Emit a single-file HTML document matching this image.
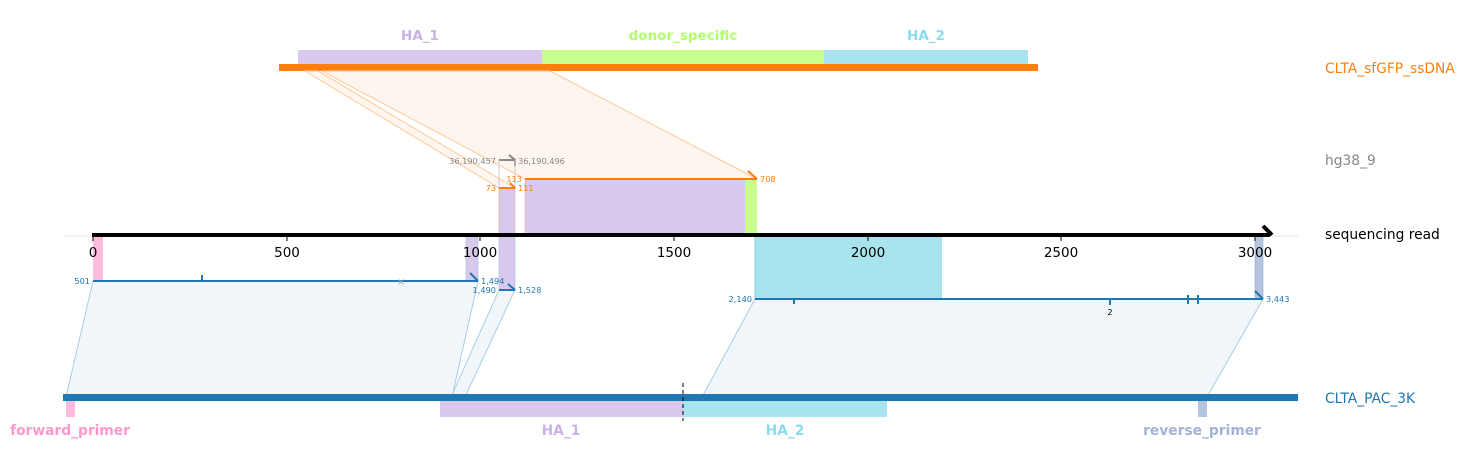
<!DOCTYPE html>
<html><head><meta charset="utf-8"><style>
html,body{margin:0;padding:0;background:#fff;}
svg{display:block;font-family:"DejaVu Sans","Liberation Sans",sans-serif;}
</style></head><body>
<svg width="1468" height="467" viewBox="0 0 1468 467" xmlns="http://www.w3.org/2000/svg">
<text x="420" y="40" font-size="13.5" font-weight="bold" fill="#c9b3e6" text-anchor="middle">HA_1</text>
<text x="683" y="40" font-size="13.5" font-weight="bold" fill="#b0ff6a" text-anchor="middle">donor_specific</text>
<text x="926" y="40" font-size="13.5" font-weight="bold" fill="#8bdcea" text-anchor="middle">HA_2</text>
<rect x="298" y="50" width="244" height="14" fill="#d8c8eb"/>
<rect x="542" y="50" width="282" height="14" fill="#c6ff8c"/>
<rect x="824" y="50" width="204" height="14" fill="#a8e4ee"/>
<rect x="279" y="64" width="759" height="7" fill="#ff7f0e"/>
<text x="1325" y="73" font-size="13.8" fill="#ff7f0e">CLTA_sfGFP_ssDNA</text>
<polygon points="305,71 318,71 515,188 499,188" fill="#fdf5ee" stroke="#ffc99a" stroke-width="1"/>
<polygon points="322,71 550,71 757,179 525,179" fill="#fdf5ee" stroke="#ffc99a" stroke-width="1"/>
<text x="1325" y="165" font-size="13.8" fill="#888">hg38_9</text>
<line x1="499" y1="160" x2="515" y2="160" stroke="#888" stroke-width="2"/>
<polyline points="509,155 515,160 515,166" fill="none" stroke="#888" stroke-width="2"/>
<line x1="499" y1="160" x2="499" y2="188" stroke="#ccc" stroke-width="1"/>
<line x1="515" y1="160" x2="515" y2="188" stroke="#ccc" stroke-width="1"/>
<text x="496" y="164" font-size="8.2" fill="#888" text-anchor="end">36,190,457</text>
<text x="518" y="164" font-size="8.2" fill="#888">36,190,496</text>
<rect x="499" y="188" width="16" height="47" fill="#d8c8eb" stroke="#e0a890" stroke-width="0.6"/>
<rect x="525" y="179" width="220" height="56" fill="#d8c8eb"/>
<rect x="745" y="179" width="12" height="56" fill="#c6ff8c"/>
<line x1="525" y1="179" x2="525" y2="235" stroke="#e0a890" stroke-width="0.6"/>
<line x1="499" y1="188" x2="515" y2="188" stroke="#ff7f0e" stroke-width="2"/>
<line x1="510" y1="183" x2="515" y2="188" stroke="#ff7f0e" stroke-width="2"/>
<line x1="525" y1="179" x2="757" y2="179" stroke="#ff7f0e" stroke-width="2"/>
<line x1="748" y1="171" x2="757" y2="179" stroke="#ff7f0e" stroke-width="2"/>
<text x="496" y="191" font-size="8.2" fill="#ff7f0e" text-anchor="end">73</text>
<text x="518" y="191" font-size="8.2" fill="#ff7f0e">111</text>
<text x="522" y="182" font-size="8.2" fill="#ff7f0e" text-anchor="end">113</text>
<text x="760" y="182" font-size="8.2" fill="#ff7f0e">708</text>
<rect x="93" y="235" width="10" height="46" fill="#ffbbdd"/>
<rect x="466" y="235" width="12" height="46" fill="#d8c8eb" stroke="#a8b8e8" stroke-width="0.6"/>
<rect x="499" y="235" width="16" height="55" fill="#d8c8eb" stroke="#a8b8e8" stroke-width="0.6"/>
<rect x="755" y="235" width="187" height="64" fill="#a8e4ee"/>
<line x1="755" y1="235" x2="755" y2="299" stroke="#8cc8e0" stroke-width="1"/>
<rect x="1255" y="235" width="8" height="64" fill="#b5c3dd" stroke="#90a8d8" stroke-width="0.6"/>
<line x1="63" y1="236" x2="1298" y2="236" stroke="#e6e6e6" stroke-width="1"/>
<line x1="92" y1="235" x2="1270" y2="235" stroke="#000" stroke-width="4"/>
<polyline points="1263,226 1272,235" fill="none" stroke="#000" stroke-width="4"/>
<text x="1325" y="239" font-size="13.8" fill="#000">sequencing read</text>
<g stroke="#000" stroke-width="1">
<line x1="93" y1="235" x2="93" y2="241"/><line x1="287" y1="235" x2="287" y2="241"/><line x1="480" y1="235" x2="480" y2="241"/>
<line x1="674" y1="235" x2="674" y2="241"/><line x1="868" y1="235" x2="868" y2="241"/><line x1="1061" y1="235" x2="1061" y2="241"/><line x1="1255" y1="235" x2="1255" y2="241"/>
</g>
<g font-size="13.5" fill="#000" text-anchor="middle">
<text x="93" y="257">0</text><text x="287" y="257">500</text><text x="480" y="257">1000</text><text x="674" y="257">1500</text><text x="868" y="257">2000</text><text x="1061" y="257">2500</text><text x="1255" y="257">3000</text>
</g>
<polygon points="93,281 478,281 452,397 66,397" fill="#f1f6fa" stroke="#a9cde6" stroke-width="1"/>
<polygon points="499,290 515,290 465,397 451,397" fill="#f1f6fa" stroke="#a9cde6" stroke-width="1"/>
<polygon points="755,299 1263,299 1207,397 702,397" fill="#f1f6fa" stroke="#a9cde6" stroke-width="1"/>
<g stroke="#1f77b4" stroke-width="2" fill="none">
<line x1="93" y1="281" x2="478" y2="281"/><line x1="470" y1="273" x2="478" y2="281"/>
<line x1="202" y1="275" x2="202" y2="281"/>
<line x1="499" y1="290" x2="515" y2="290"/><line x1="508" y1="284" x2="515" y2="290"/>
<line x1="755" y1="299" x2="1263" y2="299"/><line x1="1255" y1="291" x2="1263" y2="299"/>
<line x1="794" y1="299" x2="794" y2="304"/><line x1="1110" y1="299" x2="1110" y2="305"/>
<line x1="1188" y1="295" x2="1188" y2="304"/><line x1="1198" y1="295" x2="1198" y2="304"/>
</g>
<text x="401" y="285" font-size="10" fill="#aaa" text-anchor="middle">×</text>
<text x="1110" y="315" font-size="8.2" fill="#000" text-anchor="middle">2</text>
<g font-size="8.2" fill="#1f77b4">
<text x="90" y="284" text-anchor="end">501</text>
<text x="481" y="284">1,494</text>
<text x="496" y="293" text-anchor="end">1,490</text>
<text x="518" y="293">1,528</text>
<text x="752" y="302" text-anchor="end">2,140</text>
<text x="1266" y="302">3,443</text>
</g>
<rect x="63" y="394" width="1235" height="7" fill="#1f77b4"/>
<text x="1325" y="403" font-size="13.8" fill="#1f77b4">CLTA_PAC_3K</text>
<rect x="66" y="401" width="9" height="16" fill="#ffbbdd"/>
<rect x="440" y="401" width="243" height="16" fill="#d8c8eb"/>
<rect x="683" y="401" width="204" height="16" fill="#a8e4ee"/>
<rect x="1198" y="401" width="9" height="16" fill="#b5c3dd"/>
<line x1="683" y1="383" x2="683" y2="421" stroke="#000" stroke-width="1" stroke-dasharray="4,3"/>
<g font-size="13.8" font-weight="bold" text-anchor="middle">
<text x="70" y="435" fill="#ff99cc">forward_primer</text>
<text x="561" y="435" fill="#c9b3e6">HA_1</text>
<text x="785" y="435" fill="#8bdcea">HA_2</text>
<text x="1202" y="435" fill="#a3b2d6">reverse_primer</text>
</g>
</svg>
</body></html>
